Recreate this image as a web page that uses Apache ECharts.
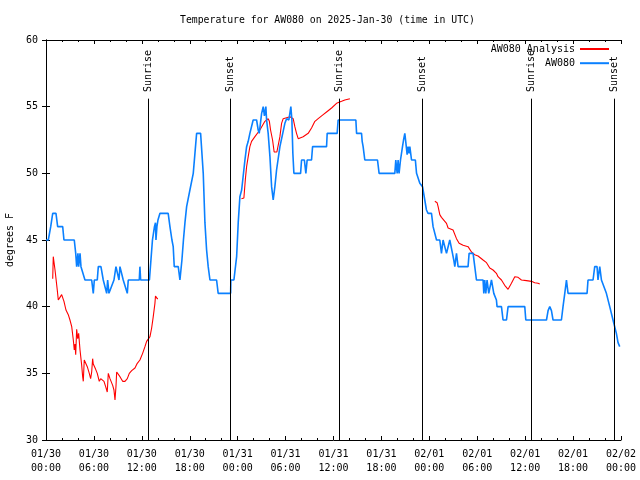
<!DOCTYPE html>
<html><head><meta charset="utf-8">
<script src="https://cdn.jsdelivr.net/npm/echarts@6/dist/echarts.min.js"></script>
<style>html,body{margin:0;padding:0;background:#fff}#c{width:640px;height:480px}</style>
</head><body><div id="c"></div>
<script>
// hours since 2025-01-30 00:00 UTC
var dayLabels = ['01/30', '01/31', '02/01', '02/02'];
var hourLabels = ['00:00', '06:00', '12:00', '18:00'];
var sunriseHours = [12.78, 36.78, 60.78];
var sunsetHours = [23.07, 47.1, 71.12];

var obsSeries = [[0,45],[0.29,45],[0.59,46],[0.84,47],[1.25,47],[1.46,46],[2.09,46],[2.25,45],[3.54,45],[3.72,44],[3.84,43],[4.0,44],[4.09,43],[4.26,44],[4.38,43],[4.59,43],[4.88,42],[5.72,42],[5.92,41],[6.05,42],[6.42,42],[6.55,43],[6.88,43],[7.17,42],[7.38,42],[7.6,41],[7.72,42],[7.88,41],[8.13,41],[8.51,42],[8.76,43],[8.97,43],[9.14,42],[9.26,43],[9.47,43],[9.67,42],[9.89,42],[10.18,41],[10.3,42],[11.68,42],[11.76,43],[11.85,42],[12.95,42],[13.14,43.5],[13.33,45],[13.58,46],[13.71,46.3],[13.77,45],[13.89,46],[14.02,46.5],[14.27,47],[15.3,47],[15.52,46],[15.77,45],[15.93,44.5],[16.06,43],[16.56,43],[16.77,42],[17.02,43.5],[17.21,45],[17.4,46.3],[17.61,47.5],[18.02,48.75],[18.44,50],[18.65,51.5],[18.86,53],[19.36,53],[19.69,50],[19.9,46.3],[20.11,44.25],[20.31,43],[20.53,42],[21.36,42],[21.56,41],[23.12,41],[23.15,42],[23.53,42],[23.87,43.75],[24.07,46.3],[24.28,48.25],[24.5,48.75],[24.91,51],[25.12,52],[25.32,52.4],[25.53,53],[25.94,54],[26.37,54],[26.57,53.25],[26.7,53],[27.0,54.5],[27.2,55],[27.35,54.3],[27.53,55],[27.62,54],[27.82,53],[28.04,51.25],[28.25,49],[28.45,48],[28.66,49],[28.87,50.25],[29.29,52],[29.91,53.75],[30.13,54.1],[30.41,54],[30.66,55],[30.79,54],[30.91,51.5],[31.04,50],[31.88,50],[32.0,51],[32.35,51],[32.54,50],[32.7,51],[33.25,51],[33.38,52],[35.13,52],[35.21,53],[36.46,53],[36.58,54],[38.8,54],[38.89,53],[39.51,53],[39.59,52.4],[39.71,52],[39.92,51],[41.51,51],[41.71,50],[43.68,50],[43.8,51],[43.97,50],[44.09,51],[44.21,50],[44.39,51],[44.64,52],[44.77,52.5],[44.93,53],[45.06,52.3],[45.22,51.4],[45.34,52],[45.47,51.5],[45.56,52],[45.77,51],[46.25,51],[46.4,50],[46.56,50],[46.81,49.25],[47.15,49],[47.43,48],[47.64,47.25],[47.84,47],[48.27,47],[48.47,46],[48.69,46],[48.9,45],[49.31,45],[49.52,44],[49.72,45],[49.94,45],[50.15,44],[50.35,44],[50.56,45],[50.77,45],[50.9,44],[51.06,43.5],[51.19,43],[51.4,44],[51.6,43],[52.85,43],[52.98,44],[53.48,44],[53.69,43],[53.9,42],[54.73,42],[54.82,41],[54.94,42],[55.07,41],[55.23,42],[55.44,41],[55.57,41],[55.78,42],[55.9,42],[56.07,41],[56.2,41],[56.4,40.5],[56.48,40],[57.03,40],[57.23,39],[57.66,39],[57.86,40],[59.95,40],[60.08,39],[62.67,39],[62.87,39.7],[63.08,40],[63.29,39.7],[63.49,39],[64.54,39],[64.74,40],[64.96,41],[65.17,42],[65.37,41],[67.75,41],[67.87,42],[68.5,42],[68.71,43],[69.0,43],[69.12,42],[69.34,43],[69.55,42],[69.75,42],[70.17,41],[70.59,40],[71.0,39],[71.42,38],[71.63,37.3],[71.84,37]];

var analysisRun1 = [[0.84,42.1],[0.91,43.75],[1.04,43.6],[1.13,42.75],[1.41,41.25],[1.54,40.5],[1.75,40.7],[1.96,40.9],[2.25,40.4],[2.5,39.75],[2.79,39.4],[3.0,39],[3.22,38.5],[3.42,37.5],[3.54,36.75],[3.63,37.2],[3.72,36.4],[3.84,38.3],[3.97,37.6],[4.09,38],[4.26,36.75],[4.47,35.6],[4.59,34.75],[4.67,34.4],[4.79,36],[5.01,35.9],[5.17,35.5],[5.42,35],[5.59,34.6],[5.72,35.1],[5.84,36.1],[5.92,35.7],[6.05,35.8],[6.22,35.3],[6.42,35],[6.67,34.4],[6.85,34.6],[7.1,34.6],[7.26,34.4],[7.47,34],[7.67,33.6],[7.8,35],[8.01,34.6],[8.13,34.5],[8.35,34.1],[8.51,33.75],[8.64,33],[8.76,34],[8.85,35.1],[9.05,35],[9.26,34.75],[9.6,34.4],[9.89,34.4],[10.18,34.6],[10.43,35],[10.73,35.2],[11.14,35.4],[11.43,35.75],[11.76,36],[12.1,36.5],[12.39,37],[12.6,37.4],[12.8,37.5],[13.02,37.75],[13.23,38.4],[13.43,39.25],[13.64,40.25],[13.71,40.8],[13.93,40.6],[14.02,40.6]];
var analysisRun2 = [[24.47,48.1],[24.78,48.15],[24.97,49.6],[25.12,50.5],[25.32,51.25],[25.53,52],[25.74,52.4],[26.16,52.75],[26.78,53.25],[27.41,53.9],[27.82,54.1],[27.97,53.9],[28.12,53.25],[28.37,52.5],[28.57,51.6],[28.91,51.6],[29.29,52.75],[29.5,53.75],[29.7,54.1],[30.54,54.25],[30.75,54.4],[30.95,54.1],[31.16,53.5],[31.37,53],[31.58,52.6],[31.79,52.55],[32.2,52.75],[32.83,53],[33.25,53.4],[33.67,53.9],[34.08,54.1],[34.71,54.4],[35.13,54.6],[35.76,54.9],[36.38,55.25],[37.01,55.4],[37.42,55.5],[38.05,55.6]];
var analysisRun3 = [[48.69,47.9],[48.97,47.8],[49.1,47.5],[49.31,46.9],[49.52,46.7],[49.72,46.6],[50.15,46.25],[50.35,45.9],[50.56,45.9],[50.97,45.75],[51.4,45.1],[51.73,44.75],[52.23,44.6],[52.85,44.5],[53.07,44.4],[53.28,44.1],[53.69,43.9],[54.1,43.8],[54.73,43.5],[55.16,43.3],[55.57,42.9],[55.98,42.75],[56.4,42.5],[56.6,42.25],[57.03,42.0],[57.44,41.6],[57.86,41.3],[58.28,41.75],[58.7,42.25],[59.11,42.2],[59.53,42.0],[60.16,41.95],[60.79,41.9],[61.2,41.8],[61.61,41.75],[61.83,41.7]];

var FONT = 'DejaVu Sans Mono';
var RED = '#ff0000', BLUE = '#0a80ff';
var CLEAR = 'rgba(0,0,0,0)';

function sunLines(hours, text) {
  var out = [];
  hours.forEach(function (h) {
    out.push([{ coord: [h, 30] }, { coord: [h, 55.6] }]);
    out.push([
      { coord: [h, 56.1], lineStyle: { color: CLEAR },
        label: { show: true, formatter: text, position: 'insideStart', distance: 0,
                 color: '#000', fontFamily: FONT, fontSize: 10 } },
      { coord: [h, 60], lineStyle: { color: CLEAR } }
    ]);
  });
  return out;
}
var markData = sunLines(sunriseHours, 'Sunrise').concat(sunLines(sunsetHours, 'Sunset'));

var chart = echarts.init(document.getElementById('c'), null, { renderer: 'canvas' });
var analysisStyle = { color: RED, width: 1.1 };
chart.setOption({
  animation: false,
  backgroundColor: '#fff',
  textStyle: { fontFamily: FONT, fontSize: 10, color: '#000' },
  title: {
    text: 'Temperature for AW080 on 2025-Jan-30 (time in UTC)',
    left: 180, top: 14, padding: 0,
    textStyle: { fontFamily: FONT, fontSize: 9.8, fontWeight: 'normal', color: '#000', lineHeight: 12 }
  },
  legend: {
    data: ['AW080 Analysis', 'AW080'],
    orient: 'vertical', right: 31, top: 43, padding: 0, align: 'right',
    itemWidth: 29, itemHeight: 2, itemGap: 2.2, itemTextGap: 6,
    icon: 'rect',
    textStyle: { fontFamily: FONT, fontSize: 10, color: '#000', lineHeight: 12 }
  },
  grid: { left: 46, right: 19, top: 40, bottom: 40, containLabel: false, outerBoundsMode: 'none' },
  xAxis: [{
    type: 'value', min: 0, max: 72, interval: 6, position: 'bottom',
    axisLine: { show: true, lineStyle: { color: '#000', width: 1 } },
    axisTick: { show: true, inside: true, length: 4, lineStyle: { color: '#000' } },
    minorTick: { show: true, splitNumber: 3, length: 2, lineStyle: { color: '#000' } },
    splitLine: { show: false },
    axisLabel: {
      margin: 8, fontFamily: FONT, fontSize: 10, color: '#000', lineHeight: 13.5,
      formatter: function (v) {
        var d = Math.floor(v / 24 + 1e-6);
        var hi = Math.round((v - d * 24) / 6);
        return dayLabels[d] + '\n' + hourLabels[hi];
      }
    }
  }, {
    type: 'value', min: 0, max: 72, interval: 6, position: 'top',
    axisLine: { show: true, lineStyle: { color: '#000', width: 1 } },
    axisTick: { show: true, inside: true, length: 4, lineStyle: { color: '#000' } },
    minorTick: { show: true, splitNumber: 3, length: 2, lineStyle: { color: '#000' } },
    splitLine: { show: false }, axisLabel: { show: false }
  }],
  yAxis: [{
    type: 'value', min: 30, max: 60, interval: 5, position: 'left',
    name: 'degrees F', nameLocation: 'middle', nameRotate: 90, nameGap: 29,
    nameTextStyle: { fontFamily: FONT, fontSize: 10, color: '#000' },
    axisLine: { show: true, lineStyle: { color: '#000', width: 1 } },
    axisTick: { show: true, inside: true, length: 4, lineStyle: { color: '#000' } },
    splitLine: { show: false },
    axisLabel: { margin: 8, fontFamily: FONT, fontSize: 10, color: '#000' }
  }, {
    type: 'value', min: 30, max: 60, interval: 5, position: 'right',
    axisLine: { show: true, lineStyle: { color: '#000', width: 1 } },
    axisTick: { show: true, inside: true, length: 4, lineStyle: { color: '#000' } },
    splitLine: { show: false }, axisLabel: { show: false }
  }],
  series: [
    { name: 'AW080 Analysis', type: 'line', data: analysisRun1, showSymbol: false, symbol: 'none',
      lineStyle: analysisStyle, itemStyle: { color: RED }, z: 3 },
    { name: 'AW080 Analysis', type: 'line', data: analysisRun2, showSymbol: false, symbol: 'none',
      lineStyle: analysisStyle, itemStyle: { color: RED }, z: 3 },
    { name: 'AW080 Analysis', type: 'line', data: analysisRun3, showSymbol: false, symbol: 'none',
      lineStyle: analysisStyle, itemStyle: { color: RED }, z: 3 },
    { name: 'AW080', type: 'line', data: obsSeries, showSymbol: false, symbol: 'none',
      lineStyle: { color: BLUE, width: 1.6 }, itemStyle: { color: BLUE }, z: 4 },
    { name: 'sun', type: 'line', data: [], silent: true,
      markLine: {
        silent: true, symbol: ['none', 'none'], animation: false,
        lineStyle: { color: '#000', width: 1, type: 'solid' },
        label: { show: false },
        emphasis: { disabled: true },
        data: markData
      } }
  ]
});
</script></body></html>
